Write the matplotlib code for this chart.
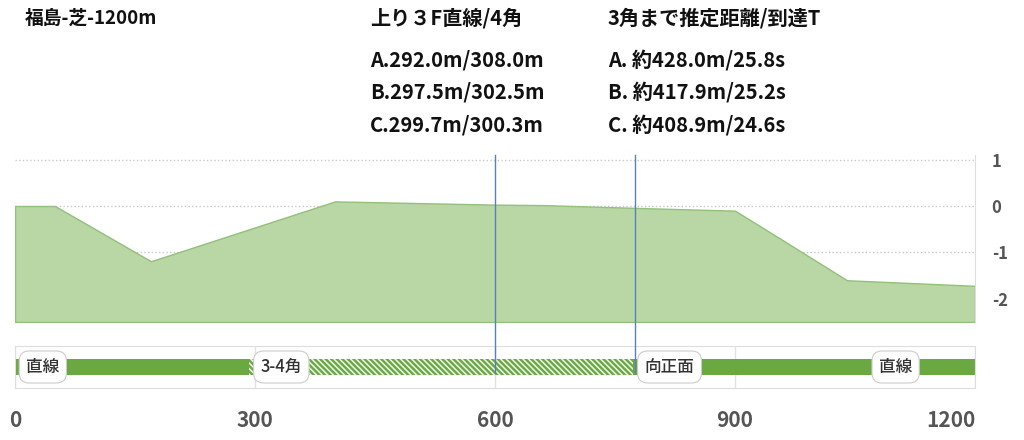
import matplotlib
matplotlib.use("Agg")
import matplotlib.pyplot as plt

plt.rcParams['font.family'] = ['Noto Sans CJK JP', 'DejaVu Sans']
plt.rcParams['axes.unicode_minus'] = False
plt.rcParams['hatch.linewidth'] = 1.7

# course profile (distance m, relative height m)
dist = [0, 50, 170, 400, 600, 660, 775, 900, 960, 1040, 1200]
elev = [0.0, 0.0, -1.19, 0.1, 0.03, 0.02, -0.04, -0.1, -0.74, -1.6, -1.72]

# course sections
sec_start = [0, 293, 773, 1066]
sec_end = [293, 773, 1066, 1200]
sec_name = ['直線', '3-4角', '向正面', '直線']
sec_hatch = [False, True, False, False]

marker_pos = [600, 775]
x_ticks = [0, 300, 600, 900, 1200]
y_ticks = [1, 0, -1, -2]

title = '福島-芝-1200m'
col1 = ['上り３F直線/4角', 'A.292.0m/308.0m', 'B.297.5m/302.5m', 'C.299.7m/300.3m']
col2 = ['3角まで推定距離/到達T', 'A. 約428.0m/25.8s', 'B. 約417.9m/25.2s', 'C. 約408.9m/24.6s']

W, H = 1024, 440
green = '#6aa842'
blue = '#5b80b8'

fig = plt.figure(figsize=(W / 100, H / 100), dpi=100)

# elevation panel
ax = fig.add_axes([15 / W, (H - 322) / H, 960 / W, (322 - 155) / H])
ax.set_xlim(0, 1200)
ax.set_ylim(-2.5, 1.1)
ax.fill_between(dist, elev, -2.5, facecolor='#b9d6a5', edgecolor='#93c07a', lw=1, zorder=2)
ax.set_yticks(y_ticks)
ax.yaxis.tick_right()
ax.tick_params(axis='y', length=0, pad=12, labelsize=12, labelcolor='#555555')
for lb in ax.get_yticklabels():
    lb.set_fontweight('bold')
ax.set_xticks([])
ax.grid(axis='y', linestyle=':', color='#c8c8c8', lw=1, zorder=1)
for s in ['left', 'top', 'bottom']:
    ax.spines[s].set_visible(False)
ax.spines['right'].set_color('#dddddd')
for p in marker_pos:
    ax.axvline(p, ymin=-0.3, ymax=1.0, color=blue, lw=1, clip_on=False, zorder=5)

# course section bar
ax2 = fig.add_axes([15 / W, (H - 388) / H, 960 / W, (388 - 346) / H])
ax2.set_xlim(0, 1200)
ax2.set_ylim(-1, 1)
for s0, s1, nm, hz in zip(sec_start, sec_end, sec_name, sec_hatch):
    if hz:
        ax2.barh(0, s1 - s0, left=s0, height=0.72, facecolor='#eef5e8', edgecolor=green,
                 hatch='\\\\\\\\\\\\', lw=0, zorder=2)
    else:
        ax2.barh(0, s1 - s0, left=s0, height=0.72, color=green, lw=0, zorder=2)
    ax2.text(s0 + 14, 0, nm, ha='left', va='center', fontsize=12, color='#333333', zorder=6,
             fontweight='medium',
             bbox=dict(boxstyle='round,pad=0.42,rounding_size=0.6', fc='white', ec='#cccccc', lw=0.8))
for p in marker_pos:
    ax2.axvline(p, ymin=0.36, ymax=1.0, color=blue, lw=1, zorder=5)
ax2.set_yticks([])
ax2.set_xticks(x_ticks)
ax2.grid(axis='x', color='#e2e2e2', lw=1, zorder=1)
ax2.tick_params(axis='x', length=0, pad=16, labelsize=15, labelcolor='#555555')
tl = ax2.get_xticklabels()
for lb in tl:
    lb.set_fontweight('bold')
tl[-1].set_horizontalalignment('right')
for s in ax2.spines.values():
    s.set_color('#dddddd')

# header text
fig.text(25 / W, 1 - 18 / H, title, fontsize=13.5, fontweight='bold', va='center', color='#111111')
line_y = [18, 60, 92, 125]
for txt, y in zip(col1, line_y):
    fig.text(370 / W, 1 - y / H, txt, fontsize=14.5, fontweight='bold', va='center', color='#111111')
for txt, y in zip(col2, line_y):
    fig.text(608 / W, 1 - y / H, txt, fontsize=14.5, fontweight='bold', va='center', color='#111111')

fig.savefig('out.png', dpi=100)
